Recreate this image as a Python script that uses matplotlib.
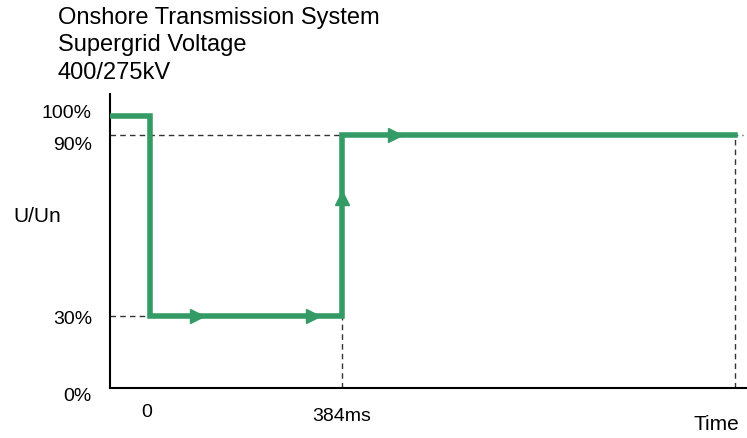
import matplotlib.pyplot as plt
import matplotlib.transforms as mtransforms
import numpy as np

plt.rcParams["font.family"] = ["Liberation Sans", "DejaVu Sans"]

# Voltage-time profile (time in ms, voltage in % of U/Un)
step_time = [-80, 0, 0, 384, 384, 1170]
step_volt = [100, 100, 30, 30, 90, 90]

# direction arrows along the curve
arrow_right_t = [94, 326, 490]
arrow_right_v = [30, 30, 90]
arrow_up_t = [384]
arrow_up_v = [69]

y_ticks = [0, 30, 90, 100]
y_tick_labels = ["0%", "30%", "90%", "100%"]
x_ticks = [0, 384]
x_tick_labels = ["0", "384ms"]

title_lines = ["Onshore Transmission System", "Supergrid Voltage", "400/275kV"]

# schematic (non-linear) voltage axis
v_knots = np.array([0, 30, 90, 100, 110])
p_knots = np.array([0, 72, 253, 272, 294])


def fwd(v):
    return np.interp(v, v_knots, p_knots)


def inv(p):
    return np.interp(p, p_knots, v_knots)


green = "#349b66"
dash_col = "#333333"

fig = plt.figure(figsize=(7.47, 4.39), dpi=100)
ax = fig.add_axes([110 / 747, 50 / 439, 636 / 747, 294 / 439])
ax.set_yscale("function", functions=(fwd, inv))
ax.set_xlim(-80, 1192)
ax.set_ylim(0, 110)

# reference dashed lines
dash = dict(color=dash_col, lw=1, ls=(0, (4, 3)), zorder=1)
ax.plot([-80, 1186], [90, 90], **dash)
ax.plot([-80, 0], [30, 30], **dash)
ax.plot([384, 384], [0, 30], **dash)
ax.plot([1170, 1170], [0, 90], **dash)

ax.plot(step_time, step_volt, color=green, lw=4, solid_joinstyle="miter", zorder=3)
ax.plot(arrow_right_t, arrow_right_v, ls="none", marker=">", ms=10, color=green, zorder=4)
ax.plot(arrow_up_t, arrow_up_v, ls="none", marker="^", ms=10, color=green, zorder=4)

for s in ["top", "right"]:
    ax.spines[s].set_visible(False)
for s in ["left", "bottom"]:
    ax.spines[s].set_linewidth(1.5)

ax.set_yticks(y_ticks)
ax.set_yticklabels(y_tick_labels, fontsize=14)
ax.set_xticks(x_ticks)
ax.set_xticklabels(x_tick_labels, fontsize=14)
ax.tick_params(axis="both", length=0)
ax.tick_params(axis="y", pad=13)
ax.tick_params(axis="x", pad=12)

# nudge labels (pixels) to sit like the reference
y_shift = {"0%": -6, "30%": 0, "90%": -8, "100%": 5}
for lab in ax.get_yticklabels():
    dy = y_shift[lab.get_text()]
    lab.set_transform(lab.get_transform() + mtransforms.ScaledTranslation(0, dy / 100, fig.dpi_scale_trans))
x_shift = {"0": (-3, 2), "384ms": (0, -2)}
for lab in ax.get_xticklabels():
    dx, dy = x_shift[lab.get_text()]
    lab.set_transform(lab.get_transform() + mtransforms.ScaledTranslation(dx / 100, dy / 100, fig.dpi_scale_trans))

fig.text(37 / 747, 1 - 217 / 439, "U/Un", fontsize=15, ha="center", va="center")
fig.text(716 / 747, 1 - 425 / 439, "Time", fontsize=15, ha="center", va="center")
for i, line in enumerate(title_lines):
    fig.text(58 / 747, 1 - (18 + 27.5 * i) / 439, line, fontsize=17, ha="left", va="center")

fig.savefig("out.png", dpi=100)
